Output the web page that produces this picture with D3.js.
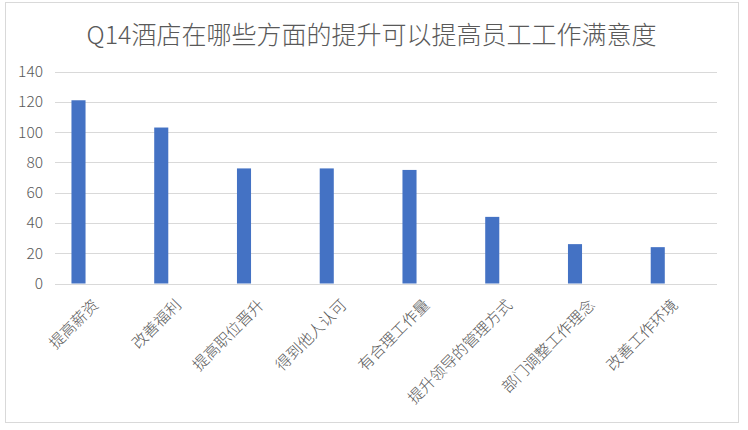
<!DOCTYPE html>
<html>
<head>
<meta charset="utf-8">
<script src="https://cdn.jsdelivr.net/npm/d3@7"></script>
<style>
  body { margin: 0; background: #fff; }
  svg { display: block; font-family: "Noto Sans CJK SC", "Noto Sans", sans-serif; font-weight: 300; }
</style>
</head>
<body>
<svg></svg>
<script>
// -----------------------------
// DATA
// -----------------------------
const title = "Q14酒店在哪些方面的提升可以提高员工工作满意度";
const categories = ["提高薪资", "改善福利", "提高职位晋升", "得到他人认可", "有合理工作量", "提升领导的管理方式", "部门调整工作理念", "改善工作环境"];
const counts = [121, 103, 76, 76, 75, 44, 26, 24];
const yTicks = [0, 20, 40, 60, 80, 100, 120, 140];

const width = 748;
const height = 430;
const plot = { left: 55, right: 717, top: 71.5, bottom: 283.5 };

const svg = d3.select("svg")
  .attr("width", width)
  .attr("height", height);

// chart frame
svg.append("rect")
  .attr("x", 5.5).attr("y", 2.5)
  .attr("width", 733).attr("height", 420)
  .attr("fill", "#fff")
  .attr("stroke", "#d9d9d9");

// -----------------------------
// SCALES
// -----------------------------
const x = d3.scaleBand()
  .domain(categories)
  .range([plot.left, plot.right])
  .padding(0);

const y = d3.scaleLinear()
  .domain([0, 140])
  .range([plot.bottom, plot.top]);

// bars sit left of the cell middle, like the original
const barW = x.bandwidth() * 0.17;
const barMid = d => x(d) + 23.5;

// -----------------------------
// GRID + Y AXIS
// -----------------------------
const yAxis = svg.append("g")
  .attr("transform", `translate(${plot.left},0)`)
  .call(d3.axisLeft(y)
    .tickValues(yTicks)
    .tickSize(-(plot.right - plot.left))
    .tickPadding(12)
  );

yAxis.select(".domain").remove();
yAxis.selectAll("line")
  .attr("stroke", "#d9d9d9")
  .attr("stroke-width", 1)
  .attr("shape-rendering", "crispEdges");
yAxis.selectAll("text")
  .attr("fill", "#595959")
  .style("font-size", "15.5px")
  .style("font-family", "\"Noto Sans CJK SC\", sans-serif");

// -----------------------------
// BARS
// -----------------------------
svg.append("g")
  .selectAll("rect")
  .data(categories)
  .join("rect")
  .attr("x", d => barMid(d) - barW / 2)
  .attr("y", (d, i) => y(counts[i]))
  .attr("width", barW)
  .attr("height", (d, i) => y(0) - y(counts[i]))
  .attr("fill", "#4472c4");

// -----------------------------
// X LABELS
// -----------------------------
svg.append("g")
  .selectAll("text")
  .data(categories)
  .join("text")
  .attr("transform", d => `translate(${barMid(d) + 21},306) rotate(-45)`)
  .attr("text-anchor", "end")
  .attr("fill", "#595959")
  .style("font-size", "15.5px")
  .text(d => d);

// -----------------------------
// TITLE
// -----------------------------
svg.append("text")
  .attr("x", 371.5)
  .attr("y", 44)
  .attr("text-anchor", "middle")
  .attr("fill", "#595959")
  .style("font-size", "25px")
  .text(title);
</script>
</body>
</html>
